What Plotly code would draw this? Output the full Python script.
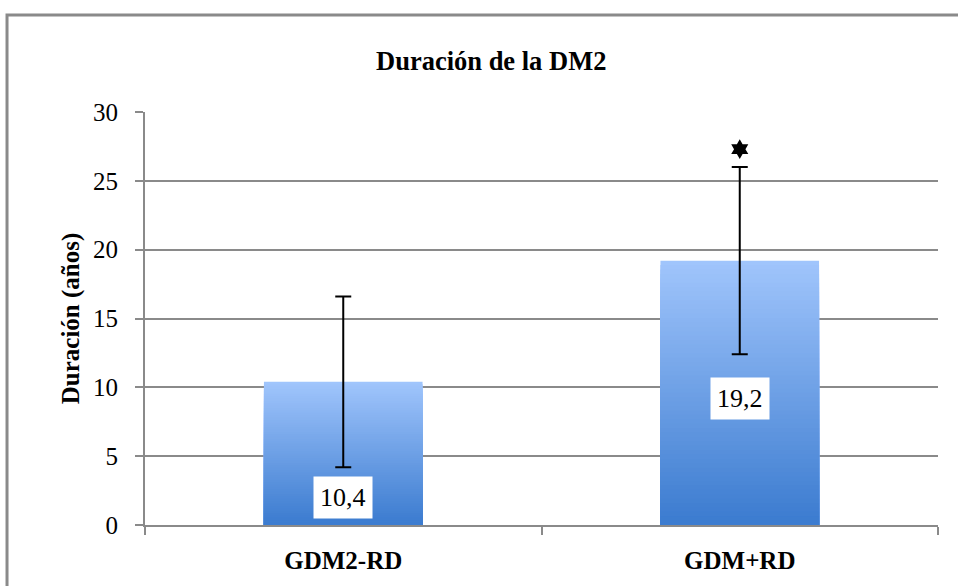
import plotly.graph_objects as go

categories = ["GDM2-RD", "GDM+RD"]
means = [10.4, 19.2]
errors = [6.2, 6.8]
value_labels = ["10,4", "19,2"]
label_y = [2.0, 9.2]
star_y = [None, 27.3]
y_ticks = [0, 5, 10, 15, 20, 25, 30]

top_rgb = (160, 197, 252)
bot_rgb = (60, 124, 208)
N = 60

fig = go.Figure()
for k in range(N):
    f = k / (N - 1)
    r = int(top_rgb[0] + (bot_rgb[0] - top_rgb[0]) * f)
    g = int(top_rgb[1] + (bot_rgb[1] - top_rgb[1]) * f)
    b = int(top_rgb[2] + (bot_rgb[2] - top_rgb[2]) * f)
    heights = [m * (N - k) / N for m in means]
    fig.add_trace(go.Bar(
        x=categories, y=heights, width=0.4,
        marker=dict(color=f"rgb({r},{g},{b})", line=dict(width=0)),
        hoverinfo="skip", showlegend=False,
    ))

# error bars
fig.add_trace(go.Scatter(
    x=categories, y=means, mode="markers",
    marker=dict(size=1, color="rgba(0,0,0,0)"),
    error_y=dict(type="data", array=errors, visible=True, color="black", thickness=2, width=8),
    showlegend=False, hoverinfo="skip",
))

# significance star
fig.add_trace(go.Scatter(
    x=categories, y=star_y, mode="markers",
    marker=dict(symbol="hexagram", size=15, color="black"),
    showlegend=False, hoverinfo="skip",
))

for c, t, yy in zip(categories, value_labels, label_y):
    fig.add_annotation(x=c, y=yy, text=t, showarrow=False, bgcolor="white",
                       font=dict(family="Liberation Serif", size=26, color="black"),
                       borderpad=6, xref="x", yref="y")

fig.add_annotation(x=0.436, y=1.164, xref="paper", yref="paper", text="<b>Duración de la DM2</b>",
                   showarrow=False, font=dict(family="Liberation Serif", size=26.5, color="black"))

fig.add_shape(type="rect", xref="paper", yref="paper", x0=-0.174, y0=-0.3, x1=1.1, y1=1.235,
              line=dict(color="#8a8a8a", width=3), fillcolor="rgba(0,0,0,0)", layer="below")

fig.update_layout(
    width=958, height=586,
    margin=dict(l=145, r=20, t=112, b=61),
    paper_bgcolor="white", plot_bgcolor="white",
    barmode="overlay", bargap=0.6,
    xaxis=dict(
        type="category", tickson="boundaries", ticks="outside", ticklen=8, tickcolor="#8a8a8a",
        tickwidth=2, showline=True, linecolor="#8a8a8a", linewidth=2, showgrid=False,
        tickfont=dict(family="Liberation Serif", size=25, color="black"),
        tickprefix="<b>", ticksuffix="</b>", ticklabelstandoff=12,
    ),
    yaxis=dict(
        range=[0, 30], tickvals=y_ticks, ticks="outside", ticklen=8, tickcolor="#8a8a8a",
        tickwidth=2, showline=True, linecolor="#8a8a8a", linewidth=2,
        showgrid=True, gridcolor="#8a8a8a", gridwidth=2, zeroline=False,
        tickfont=dict(family="Liberation Serif", size=25, color="black"),
        ticklabelstandoff=12,
        title=dict(text="<b>Duración (años)</b>", standoff=6,
                   font=dict(family="Liberation Serif", size=25, color="black")),
    ),
)

fig.write_html("out.html", config={"displayModeBar": False},
               post_script="document.body.style.margin='0';")
